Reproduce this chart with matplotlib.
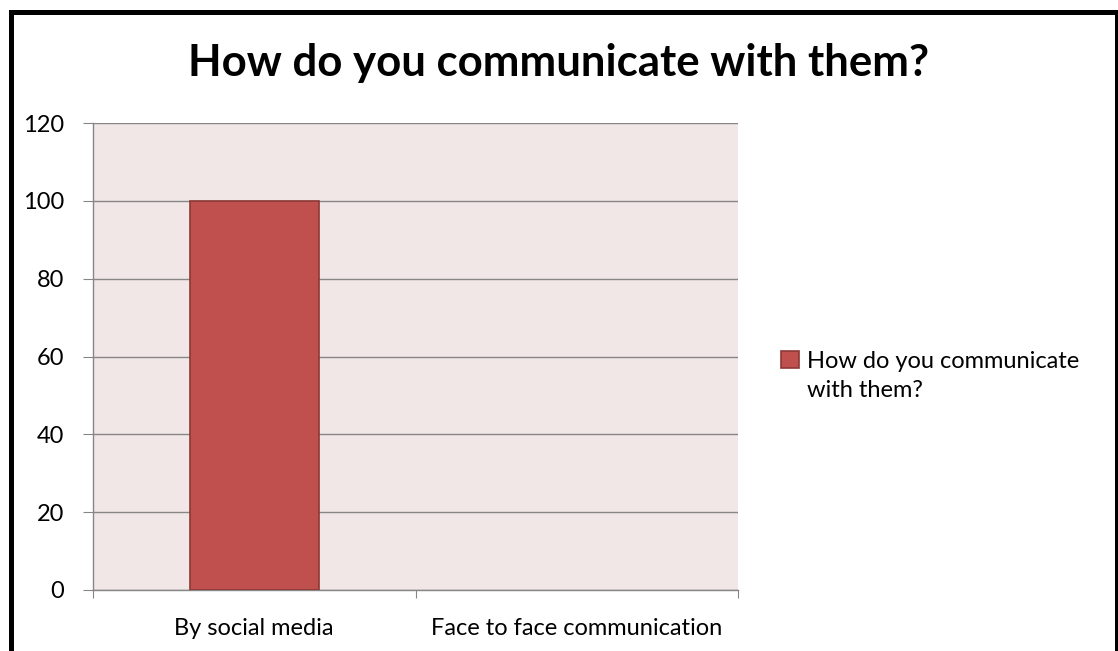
import matplotlib.pyplot as plt
from matplotlib.patches import Rectangle

# Data
categories = ["By social media", "Face to face communication"]
values = [100, 0]
series_name = "How do you communicate with them?"
yticks = [0, 20, 40, 60, 80, 100, 120]

plt.rcParams['font.family'] = ['Lato', 'DejaVu Sans']

W, H = 1118, 651
fig = plt.figure(figsize=(W / 100, H / 100), dpi=100)
ax = fig.add_axes([93 / W, 1 - 590 / H, (738 - 93) / W, (590 - 123) / H])

ax.set_facecolor("#F2E7E7")
x = range(len(categories))
bars = ax.bar(x, values, width=0.4, color="#C0504D", edgecolor="#8C3836",
              linewidth=1.2, label=series_name, zorder=3)
for b, v in zip(bars, values):
    if v == 0:
        b.set_linewidth(0)

ax.set_xlim(-0.5, 1.5)
ax.set_ylim(0, 120)
ax.set_yticks(yticks)
ax.set_yticklabels([str(t) for t in yticks], fontsize=17)
ax.set_xticks([-0.5, 0.5, 1.5], minor=False)
ax.set_xticklabels([])
ax.set_xticks(list(x), minor=True)
ax.set_xticklabels(categories, minor=True, fontsize=17)
ax.tick_params(axis='x', which='minor', length=0, pad=20)
ax.tick_params(axis='x', which='major', length=6, color="#868686", direction='out')
ax.tick_params(axis='y', length=7, color="#868686", pad=14)

ax.grid(axis='y', color="#868686", linewidth=1.0, zorder=1)
for side in ['top', 'right']:
    ax.spines[side].set_visible(False)
for side in ['left', 'bottom']:
    ax.spines[side].set_color("#868686")
    ax.spines[side].set_linewidth(1.0)

fig.text(0.5, 1 - 63 / H, "How do you communicate with them?", ha='center', va='center',
         fontsize=31.5, fontweight='bold')

leg = fig.legend(handles=[bars], labels=["How do you communicate\nwith them?"], loc='center left',
                 bbox_to_anchor=(760 / W, 1 - 376 / H), frameon=False, fontsize=17,
                 handlelength=0.75, handleheight=0.75, handletextpad=0.35)
for t in leg.get_texts():
    t.set_linespacing(1.45)
# put the colour square next to the first line of the label
for col in leg._legend_handle_box.get_children():
    for row in col.get_children():
        row.align = "top"

# chart border
fig.patches.append(Rectangle((10.5 / W, -0.05), (1116.5 - 10.5) / W, 1 - 12 / H + 0.05,
                             transform=fig.transFigure, fill=False, edgecolor='black',
                             linewidth=3.6))

fig.savefig("out.png", dpi=100)
